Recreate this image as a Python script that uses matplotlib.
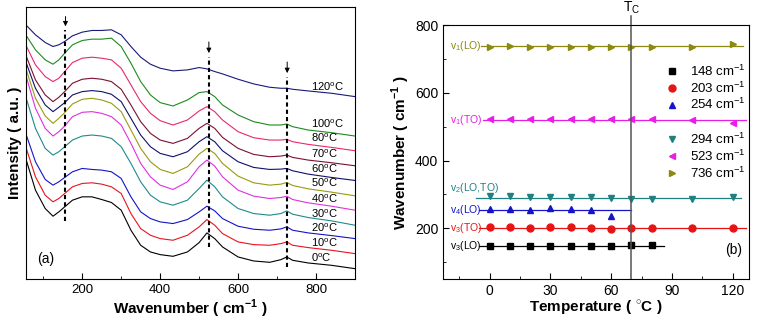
import numpy as np
import matplotlib
matplotlib.use("Agg")
import matplotlib.pyplot as plt
from matplotlib.ticker import MultipleLocator
from matplotlib.lines import Line2D

plt.rcParams['font.family'] = ['Liberation Sans', 'DejaVu Sans']
plt.rcParams['mathtext.fontset'] = 'custom'
plt.rcParams['mathtext.rm'] = 'Liberation Sans'
plt.rcParams['mathtext.bf'] = 'Liberation Sans:bold'

# ---------------- (a) Raman spectra ----------------
wavenumber = [55, 80, 105, 125, 140, 155, 175, 200, 225, 250, 275, 300, 325, 350, 375, 400,
              433, 470, 500, 520, 540, 560, 600, 640, 681, 710, 725, 740, 780, 840, 900]
spec_temps = ['0', '10', '20', '30', '40', '50', '60', '70', '80', '100', '120']
I_0 = [365, 270, 215, 192, 205, 220, 240, 250, 250, 242, 233, 210, 150, 105, 85, 77, 72, 85, 113, 142, 125, 100, 70, 58, 54, 62, 70, 60, 52, 45, 35]
I_10 = [400, 310, 255, 235, 245, 260, 280, 290, 292, 288, 280, 260, 200, 155, 135, 125, 120, 135, 160, 182, 165, 140, 115, 107, 105, 110, 115, 105, 98, 90, 80]
I_20 = [440, 355, 302, 285, 295, 308, 325, 335, 332, 330, 325, 305, 250, 205, 185, 175, 170, 182, 205, 222, 208, 185, 162, 153, 150, 154, 160, 150, 142, 134, 125]
I_30 = [550, 455, 395, 375, 385, 400, 420, 432, 435, 432, 425, 400, 350, 295, 255, 235, 225, 240, 275, 300, 280, 250, 215, 200, 195, 200, 208, 198, 188, 178, 165]
I_40 = [615, 515, 455, 432, 445, 462, 490, 503, 505, 500, 490, 465, 410, 350, 310, 285, 272, 295, 340, 360, 342, 310, 270, 252, 245, 248, 252, 242, 232, 222, 210]
I_50 = [635, 545, 492, 470, 485, 502, 528, 542, 545, 540, 530, 505, 450, 395, 355, 332, 320, 340, 378, 395, 380, 350, 312, 292, 285, 288, 293, 284, 274, 264, 253]
I_60 = [655, 575, 525, 505, 518, 532, 555, 565, 568, 565, 557, 535, 485, 435, 400, 380, 370, 385, 415, 430, 415, 388, 355, 338, 332, 333, 335, 328, 318, 308, 299]
I_70 = [675, 600, 555, 535, 548, 565, 590, 602, 605, 602, 595, 572, 525, 475, 440, 420, 410, 425, 455, 470, 455, 428, 395, 377, 370, 372, 375, 368, 360, 352, 343]
I_80 = [705, 645, 610, 595, 605, 625, 652, 665, 668, 665, 660, 635, 585, 535, 500, 478, 465, 480, 507, 520, 505, 480, 445, 427, 420, 420, 422, 415, 407, 398, 388]
I_100 = [735, 690, 660, 647, 660, 680, 705, 718, 722, 722, 725, 700, 650, 595, 555, 532, 522, 540, 562, 565, 550, 525, 495, 475, 465, 465, 468, 460, 450, 442, 432]
I_120 = [765, 735, 712, 700, 705, 715, 732, 743, 748, 748, 750, 735, 700, 668, 647, 635, 627, 630, 637, 633, 625, 618, 602, 588, 578, 575, 575, 572, 567, 560, 550]
spectra = [I_0, I_10, I_20, I_30, I_40, I_50, I_60, I_70, I_80, I_100, I_120]
label_y = [68, 112, 157, 200, 245, 292, 335, 378, 428, 470, 580]
spec_colors = ['#000000', '#e8141e', '#1414c8', '#1f8a8a', '#e030e0', '#9a9a10',
               '#10106e', '#7a1030', '#e8286e', '#1e8a1e', '#1a1a7a']
dash_pos = [157, 525, 726]
dash_top = [750, 670, 610]
dash_bot = [178, 100, 40]
arrow_tail = [798, 722, 662]

# ---------------- (b) peak positions ----------------
temps = [0, 10, 20, 30, 40, 50, 60, 70, 80, 100, 120]
p148 = [148, 148, 148, 147, 147, 147, 148, 150, 150]
p203 = [203, 205, 202, 205, 204, 202, 199, 202, 202, 200, 201]
p254 = [256, 258, 254, 259, 258, 254, 236]
p294 = [294, 294, 293, 293, 292, 291, 289, 286, 287, 287, 292]
p523 = [522, 522, 522, 523, 523, 522, 522, 523, 522, 521, 510]
p736 = [737, 738, 737, 736, 737, 737, 737, 736, 736, 737, 745]
series_names = ['148 cm$^{-1}$', '203 cm$^{-1}$', '254 cm$^{-1}$', '294 cm$^{-1}$', '523 cm$^{-1}$', '736 cm$^{-1}$']
mode_labels = ['v$_3$(LO)', 'v$_3$(TO)', 'v$_4$(LO)', 'v$_2$(LO,TO)', 'v$_1$(TO)', 'v$_1$(LO)']
mode_label_y = [147, 201, 254, 318, 520, 738]
Tc = 70

fig = plt.figure(figsize=(7.59, 3.22), dpi=100)
axa = fig.add_axes([0.0339, 0.1335, 0.4338, 0.8445])
axb = fig.add_axes([0.5837, 0.1335, 0.4031, 0.7879])

# ---- panel a
for vals, c in zip(spectra, spec_colors):
    axa.plot(wavenumber, vals, color=c, lw=0.8)
for t, ly in zip(spec_temps, label_y):
    axa.text(788, ly, t + r'$^{\mathregular{o}}$C', fontsize=8, va='center', ha='left')
for x, t, b, a in zip(dash_pos, dash_top, dash_bot, arrow_tail):
    axa.plot([x, x], [b, t], color='k', lw=1.5, ls=(0, (2.0, 1.5)))
    axa.annotate('', xy=(x, t + 2), xytext=(x, a),
                 arrowprops=dict(arrowstyle='-|>', color='k', lw=0.7, mutation_scale=7))
axa.set_xlim(55, 900)
axa.set_ylim(4, 818)
axa.set_yticks([])
axa.xaxis.set_major_locator(MultipleLocator(200))
axa.xaxis.set_minor_locator(MultipleLocator(100))
axa.tick_params(axis='x', which='both', direction='in', labelsize=9.5)
axa.tick_params(axis='x', which='major', length=4)
axa.tick_params(axis='x', which='minor', length=2.5)
axa.set_xlabel('Wavenumber ( cm$^{\\mathbf{-1}}$ )', fontsize=11, fontweight='bold', labelpad=1)
axa.set_ylabel('Intensity ( a.u. )', fontsize=11, fontweight='bold', labelpad=3)
axa.text(0.035, 0.06, '(a)', transform=axa.transAxes, fontsize=10)

# ---- panel b
specs = [
    (temps[:len(p148)], p148, 's', '#000000', (-5.3, 86.3)),
    (temps, p203, 'o', '#e81414', (-5.3, 126.6)),
    (temps[:len(p254)], p254, '^', '#1414c8', (-5.3, 69.9)),
    (temps, p294, 'v', '#1f8080', (-6.6, 124.0)),
    (temps, p523, '<', '#e81ee8', (-3.3, 126.6)),
    (temps, p736, '>', '#8a8a10', (-4.1, 125.0)),
]
handles = []
for (tx, ty, mk, c, ext), name in zip(specs, series_names):
    m = np.mean(ty)
    axb.plot(ext, [m, m], color=c, lw=0.9)
    axb.plot(tx, ty, ls='none', marker=mk, color=c, ms=5, mec=c)
    handles.append(Line2D([], [], ls='none', marker=mk, color=c, ms=5, label=name))
for lab, ly, (_, _, _, c, _) in zip(mode_labels, mode_label_y, specs):
    axb.text(-19.7, ly, lab, color=c, fontsize=7.5, va='center', ha='left')

axb.axvline(Tc, ymin=0, ymax=1.035, color='#555555', lw=1.1, clip_on=False)
axb.text(Tc, 828, 'T$_{\\mathregular{C}}$', fontsize=10, ha='center', va='bottom')
axb.set_xlim(-23, 128)
axb.set_ylim(50, 800)
axb.xaxis.set_major_locator(MultipleLocator(30))
axb.xaxis.set_minor_locator(MultipleLocator(15))
axb.yaxis.set_major_locator(MultipleLocator(200))
axb.yaxis.set_minor_locator(MultipleLocator(100))
axb.tick_params(which='both', direction='in', labelsize=10)
axb.tick_params(which='major', length=4)
axb.tick_params(which='minor', length=2.5)
axb.set_xlabel('Temperature ( $^{\\circ}$C )', fontsize=11, fontweight='bold', labelpad=1)
axb.set_ylabel('Wavenumber ( cm$^{\\mathbf{-1}}$ )', fontsize=11, fontweight='bold', labelpad=2)
axb.text(0.977, 0.10, '(b)', transform=axb.transAxes, fontsize=10, ha='right')

leg_kw = dict(frameon=False, fontsize=9.5, handlelength=1.2, handletextpad=0.8,
              labelspacing=0.12, borderpad=0, borderaxespad=0)
leg1 = axb.legend(handles=handles[:3], loc='center left', bbox_to_anchor=(0.722, 0.753), **leg_kw)
axb.add_artist(leg1)
axb.legend(handles=handles[3:], loc='center left', bbox_to_anchor=(0.722, 0.484), **leg_kw)

fig.savefig('out.png', dpi=100)
